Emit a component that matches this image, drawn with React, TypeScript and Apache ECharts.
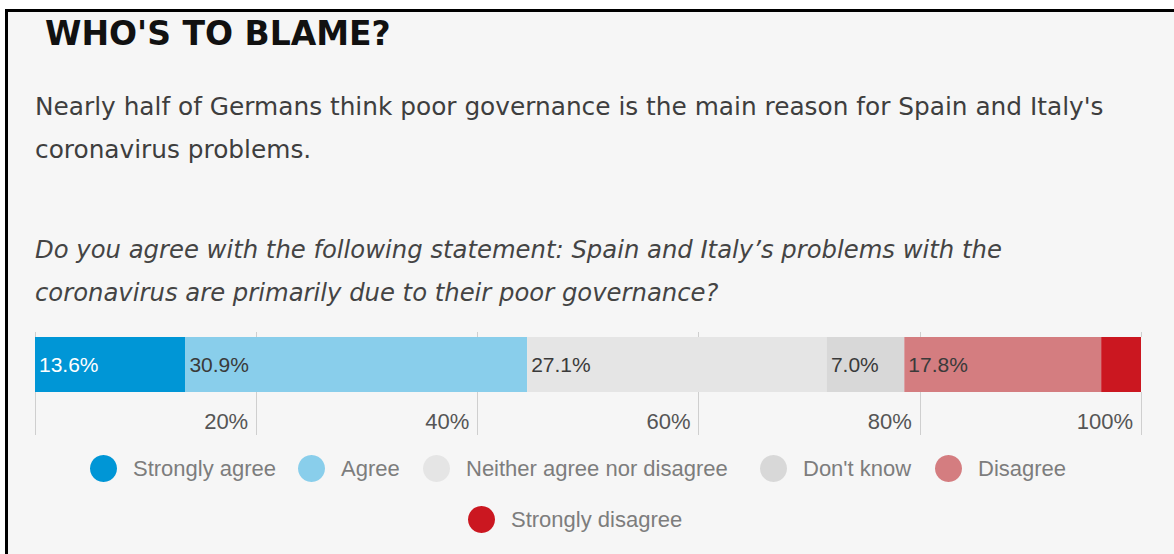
import React, { useEffect, useRef } from "react";
import * as echarts from "echarts";

const categories = [
  "Strongly agree",
  "Agree",
  "Neither agree nor disagree",
  "Don't know",
  "Disagree",
  "Strongly disagree",
];
const values = [13.6, 30.9, 27.1, 7.0, 17.8, 3.6];
const colors = ["#0096d6", "#89ceeb", "#e5e5e5", "#d8d8d8", "#d47d80", "#cb1720"];
const labelColors = ["#ffffff", "#3a3a3a", "#3a3a3a", "#3a3a3a", "#3a3a3a", "#3a3a3a"];
const showLabels = [true, true, true, true, true, false];

const title = "WHO'S TO BLAME?";
const subtitleLines = [
  "Nearly half of Germans think poor governance is the main reason for Spain and Italy's",
  "coronavirus problems.",
];
const questionLines = [
  "Do you agree with the following statement: Spain and Italy\u2019s problems with the",
  "coronavirus are primarily due to their poor governance?",
];

const FONT = "'Liberation Sans', Arial, sans-serif";
const BODY_FONT = "'DejaVu Sans', sans-serif";

// legend item placement (left x of icon, top y)
const legendPos = [
  [90, 455],
  [298, 455],
  [423, 455],
  [760, 455],
  [935, 455],
  [468, 506],
];

export default function App() {
  const ref = useRef<HTMLDivElement>(null);
  useEffect(() => {
    if (!ref.current) return;
    const chart = echarts.init(ref.current, undefined, { renderer: "svg" });
    const option: any = {
      animation: false,
      backgroundColor: "#ffffff",
      grid: { left: 35, right: 33, top: 337, height: 55, outerBoundsMode: "none" },
      xAxis: [
        {
          type: "value",
          min: 0,
          max: 100,
          interval: 20,
          position: "bottom",
          axisLine: { show: false },
          axisTick: { show: true, length: 43, lineStyle: { color: "#cfcfcf", width: 1 } },
          splitLine: { show: false },
          axisLabel: {
            show: true,
            align: "right",
            margin: 18,
            padding: [0, 8, 0, 0],
            fontSize: 22,
            fontFamily: FONT,
            color: "#555555",
            formatter: (v: number) => (v === 0 ? "" : v + "%"),
          },
        },
        {
          type: "value",
          min: 0,
          max: 100,
          interval: 20,
          position: "top",
          axisLine: { show: false },
          axisTick: { show: true, length: 5, lineStyle: { color: "#cfcfcf", width: 1 } },
          splitLine: { show: false },
          axisLabel: { show: false },
        },
      ],
      yAxis: { type: "category", data: ["Q"], show: false },
      legend: categories.map((name, i) => ({
        data: [name],
        left: legendPos[i][0],
        top: legendPos[i][1],
        padding: 0,
        icon: "circle",
        itemWidth: 27,
        itemHeight: 27,
        selectedMode: false,
        textStyle: {
          fontSize: 22,
          fontFamily: FONT,
          color: "#7d7d7d",
          padding: [0, 0, 0, 11],
        },
      })),
      series: categories.map((name, i) => ({
        type: "bar",
        name,
        stack: "total",
        barWidth: 55,
        data: [values[i]],
        itemStyle: { color: colors[i] },
        label: {
          show: showLabels[i],
          position: "insideLeft",
          distance: 4,
          fontSize: 21,
          fontFamily: FONT,
          color: labelColors[i],
          formatter: (p: any) => Number(p.value).toFixed(1) + "%",
        },
      })),
      graphic: [
        { type: "rect", z: -10, shape: { x: 5, y: 9, width: 1169, height: 545 }, style: { fill: "#000000" } },
        { type: "rect", z: -9, shape: { x: 8, y: 12, width: 1166, height: 542 }, style: { fill: "#f6f6f6" } },
        {
          type: "text",
          z: 10,
          x: 45,
          y: 33,
          style: {
            text: title,
            fontSize: 33,
            fontWeight: "bold",
            fontFamily: "'DejaVu Sans', sans-serif",
            fill: "#111111",
            verticalAlign: "middle",
          },
        },
        ...subtitleLines.map((t, i) => ({
          type: "text",
          z: 10,
          x: 35,
          y: 106 + i * 43,
          style: { text: t, fontSize: 24.8, fontFamily: BODY_FONT, fill: "#3e3e3e", verticalAlign: "middle" },
        })),
        ...questionLines.map((t, i) => ({
          type: "text",
          z: 10,
          x: 35,
          y: 249 + i * 43,
          style: {
            text: t,
            fontSize: 24.3,
            fontStyle: "italic",
            fontFamily: BODY_FONT,
            fill: "#444444",
            verticalAlign: "middle",
          },
        })),
      ],
    };
    chart.setOption(option);
    return () => chart.dispose();
  }, []);
  return (
    <div
      ref={ref}
      style={{ position: "absolute", left: 0, top: 0, width: 1174, height: 554 }}
    />
  );
}
